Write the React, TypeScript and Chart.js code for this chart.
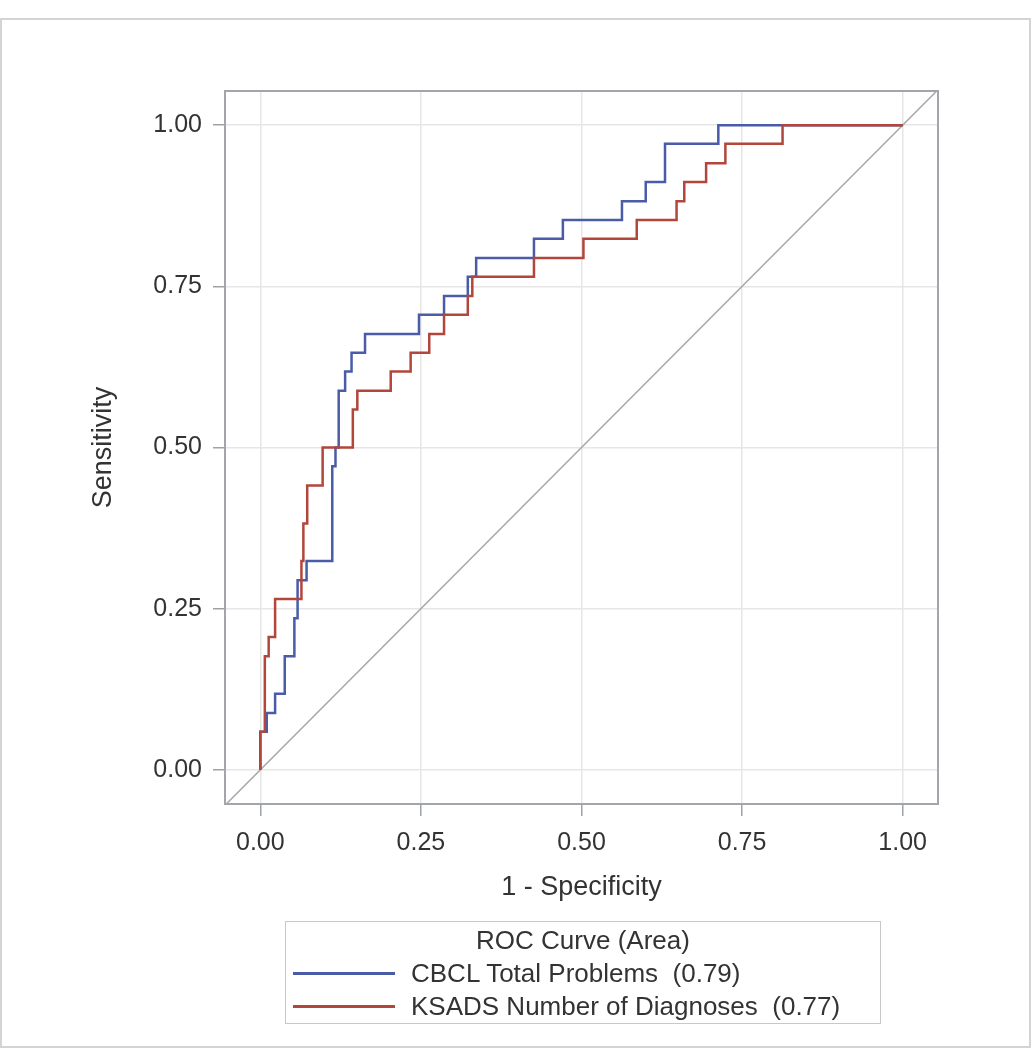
import { useEffect, useRef } from "react";
import { Chart, registerables } from "chart.js";

Chart.register(...registerables);

// ---- data ----
const axisTicks = [0, 0.25, 0.5, 0.75, 1];
const axisMinX = -0.055;
const axisMaxX = 1.055;
const axisMinY = -0.053;
const axisMaxY = 1.053;

// CBCL Total Problems ROC vertices (1 - specificity, sensitivity)
const cbclFpr = [0, 0, 0.010, 0.023, 0.038, 0.053, 0.058, 0.072, 0.112, 0.117, 0.122, 0.132, 0.142, 0.163, 0.247, 0.286, 0.323, 0.336, 0.426, 0.471, 0.563, 0.600, 0.630, 0.713, 1.0];
const cbclTpr = [0, 0.059, 0.088, 0.118, 0.176, 0.235, 0.294, 0.324, 0.471, 0.5, 0.588, 0.618, 0.647, 0.676, 0.706, 0.735, 0.765, 0.794, 0.824, 0.853, 0.882, 0.912, 0.971, 1.0, 1.0];

// KSADS Number of Diagnoses ROC vertices
const ksadsFpr = [0, 0, 0.007, 0.013, 0.023, 0.064, 0.067, 0.073, 0.097, 0.144, 0.151, 0.203, 0.234, 0.263, 0.286, 0.323, 0.330, 0.426, 0.503, 0.586, 0.648, 0.660, 0.694, 0.724, 0.813, 1.0];
const ksadsTpr = [0, 0.059, 0.176, 0.206, 0.265, 0.324, 0.382, 0.441, 0.5, 0.559, 0.588, 0.618, 0.647, 0.676, 0.706, 0.735, 0.765, 0.794, 0.824, 0.853, 0.882, 0.912, 0.941, 0.971, 1.0, 1.0];

// chance diagonal
const chanceLine = [-0.06, 1.06];

const seriesLabels = ["CBCL Total Problems  (0.79)", "KSADS Number of Diagnoses  (0.77)"];
const seriesColors = ["#4a5ba8", "#b2463b"];
const legendTitle = "ROC Curve (Area)";
const xTitle = "1 - Specificity";
const yTitle = "Sensitivity";

const FONT = "'Liberation Sans', Arial, Helvetica, sans-serif";
const TEXT = "#333333";

const framePlugin = {
  id: "frame",
  beforeDatasetsDraw(chart: any) {
    const { ctx, chartArea: a } = chart;
    ctx.save();
    ctx.strokeStyle = "#a2a6ab";
    ctx.lineWidth = 2;
    ctx.strokeRect(a.left, a.top, a.right - a.left, a.bottom - a.top);
    ctx.restore();
  },
};

function pts(xs: number[], ys: number[]) {
  return xs.map((x, i) => ({ x, y: ys[i] }));
}

export default function App() {
  const ref = useRef<HTMLCanvasElement | null>(null);

  useEffect(() => {
    if (!ref.current) return;
    const setTicks = (scale: any) => {
      scale.ticks = axisTicks.map((v) => ({ value: v }));
    };
    const grid = {
      display: true,
      color: "#e6e6e6",
      lineWidth: 1.5,
      drawTicks: true,
      tickLength: 12,
      tickColor: "#9ea2a7",
      tickWidth: 1.5,
    };
    const chart = new Chart(ref.current, {
      type: "line",
      data: {
        datasets: [
          {
            label: seriesLabels[0],
            data: pts(cbclFpr, cbclTpr),
            borderColor: seriesColors[0],
            borderWidth: 2.5,
            pointRadius: 0,
            stepped: "before",
            order: 1,
          },
          {
            label: seriesLabels[1],
            data: pts(ksadsFpr, ksadsTpr),
            borderColor: seriesColors[1],
            borderWidth: 2.5,
            pointRadius: 0,
            stepped: "before",
            order: 0,
          },
          {
            label: "Chance",
            data: pts(chanceLine, chanceLine),
            borderColor: "#a8a8a8",
            borderWidth: 1.5,
            pointRadius: 0,
            order: 2,
          },
        ],
      },
      options: {
        animation: false,
        responsive: true,
        maintainAspectRatio: false,
        layout: { padding: { left: 0, top: 91, right: 94, bottom: 0 } },
        plugins: { legend: { display: false }, tooltip: { enabled: false } },
        scales: {
          x: {
            type: "linear",
            min: axisMinX,
            max: axisMaxX,
            afterBuildTicks: setTicks,
            afterFit: (s: any) => {
              s.height = 246;
            },
            grid,
            border: { display: false },
            ticks: {
              padding: 12,
              maxRotation: 0,
              autoSkip: false,
              color: TEXT,
              font: { family: FONT, size: 25 },
              callback: (v: any) => Number(v).toFixed(2),
            },
            title: {
              display: true,
              text: xTitle,
              color: TEXT,
              font: { family: FONT, size: 27 },
              padding: { top: 0, bottom: 146.5 },
            },
          },
          y: {
            type: "linear",
            min: axisMinY,
            max: axisMaxY,
            afterBuildTicks: setTicks,
            afterFit: (s: any) => {
              s.width = 225;
            },
            grid,
            border: { display: false },
            ticks: {
              padding: 11,
              autoSkip: false,
              color: TEXT,
              font: { family: FONT, size: 25 },
              callback: (v: any) => Number(v).toFixed(2),
            },
            title: {
              display: true,
              text: yTitle,
              color: TEXT,
              font: { family: FONT, size: 27 },
              padding: { top: 87.4, bottom: 0 },
            },
          },
        },
      },
      plugins: [framePlugin],
    } as any);
    return () => chart.destroy();
  }, []);

  const legendText: any = {
    position: "absolute",
    fontFamily: FONT,
    fontSize: 26,
    lineHeight: "32px",
    color: TEXT,
    whiteSpace: "pre",
  };

  return (
    <div style={{ position: "fixed", left: 0, top: 0, width: 1032, height: 1050, background: "#fff" }}>
      <div
        style={{
          position: "absolute",
          left: 0,
          top: 18,
          width: 1031,
          height: 1030,
          boxSizing: "border-box",
          border: "2px solid #d4d4d4",
        }}
      />
      <canvas ref={ref} style={{ position: "absolute", left: 0, top: 0, width: 1032, height: 1050 }} />
      <div
        style={{
          position: "absolute",
          left: 285,
          top: 921,
          width: 596,
          height: 103,
          boxSizing: "border-box",
          border: "1.5px solid #c8c8c8",
        }}
      />
      <div style={{ ...legendText, left: 285, width: 596, top: 940 - 16, textAlign: "center" }}>{legendTitle}</div>
      {seriesLabels.map((lab, i) => {
        const cy = 973 + i * 33;
        return (
          <div key={lab}>
            <div
              style={{
                position: "absolute",
                left: 293,
                top: cy - 1.5,
                width: 102,
                height: 3,
                background: seriesColors[i],
              }}
            />
            <div style={{ ...legendText, left: 411, top: cy - 16 }}>{lab}</div>
          </div>
        );
      })}
    </div>
  );
}
